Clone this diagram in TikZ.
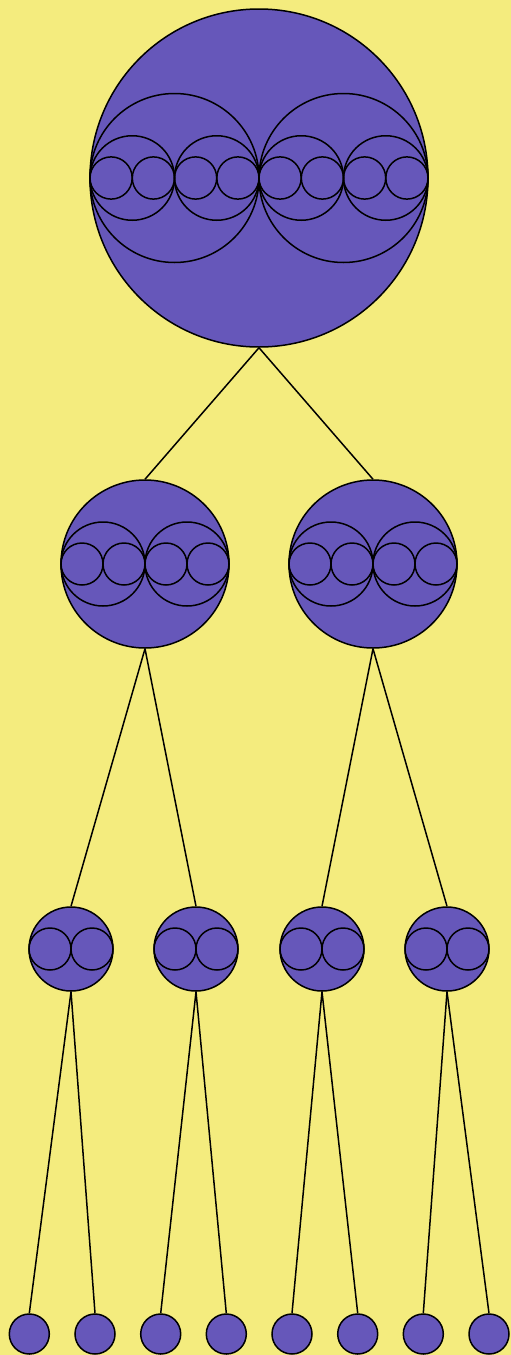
\documentclass[tikz,border=0pt]{standalone}
\definecolor{bgyellow}{HTML}{F4EC7E}
\definecolor{ballfill}{HTML}{6657BA}
\begin{document}
\begin{tikzpicture}[x=1pt,y=-1pt,line width=1.5pt,
    ball/.style={circle, draw=black, fill=ballfill, inner sep=0pt},
    ring/.style={draw=black}]
    % Background
    \fill[bgyellow] (0,0) rectangle (511,1355);

    % Root with its nested halves
    \node[ball, minimum size=338pt] (root) at (259,178) {};
    \foreach \dx in {-84.5,84.5}
        \draw[ring] (root.center) ++(\dx,0) circle (84.5pt);
    \foreach \dx in {-126.75,-42.25,42.25,126.75}
        \draw[ring] (root.center) ++(\dx,0) circle (42.25pt);
    \foreach \dx in {-147.9,-105.6,-63.4,-21.1,21.1,63.4,105.6,147.9}
        \draw[ring] (root.center) ++(\dx,0) circle (21.1pt);

    % Second level
    \node[ball, minimum size=168pt] (mid1) at (145,564) {};
    \node[ball, minimum size=168pt] (mid2) at (373,564) {};
    \foreach \m in {mid1,mid2} {
        \foreach \dx in {-42,42}
            \draw[ring] (\m.center) ++(\dx,0) circle (42pt);
        \foreach \dx in {-63,-21,21,63}
            \draw[ring] (\m.center) ++(\dx,0) circle (21pt);
    }

    % Third level
    \node[ball, minimum size=84pt] (low1) at (71,949) {};
    \node[ball, minimum size=84pt] (low2) at (196,949) {};
    \node[ball, minimum size=84pt] (low3) at (322,949) {};
    \node[ball, minimum size=84pt] (low4) at (447,949) {};
    \foreach \m in {low1,low2,low3,low4} {
        \foreach \dx in {-21,21}
            \draw[ring] (\m.center) ++(\dx,0) circle (21pt);
    }

    % Leaves
    \foreach \i/\x in {1/29.3,2/95,3/160.7,4/226.3,5/292,6/357.7,7/423.3,8/489}
        \node[ball, minimum size=40pt] (leaf\i) at (\x,1334) {};

    % Edges
    \draw (root.south) -- (mid1.north);
    \draw (root.south) -- (mid2.north);
    \draw (mid1.south) -- (low1.north);
    \draw (mid1.south) -- (low2.north);
    \draw (mid2.south) -- (low3.north);
    \draw (mid2.south) -- (low4.north);
    \foreach \p/\a/\b in {1/1/2,2/3/4,3/5/6,4/7/8} {
        \draw (low\p.south) -- (leaf\a.north);
        \draw (low\p.south) -- (leaf\b.north);
    }
\end{tikzpicture}
\end{document}
